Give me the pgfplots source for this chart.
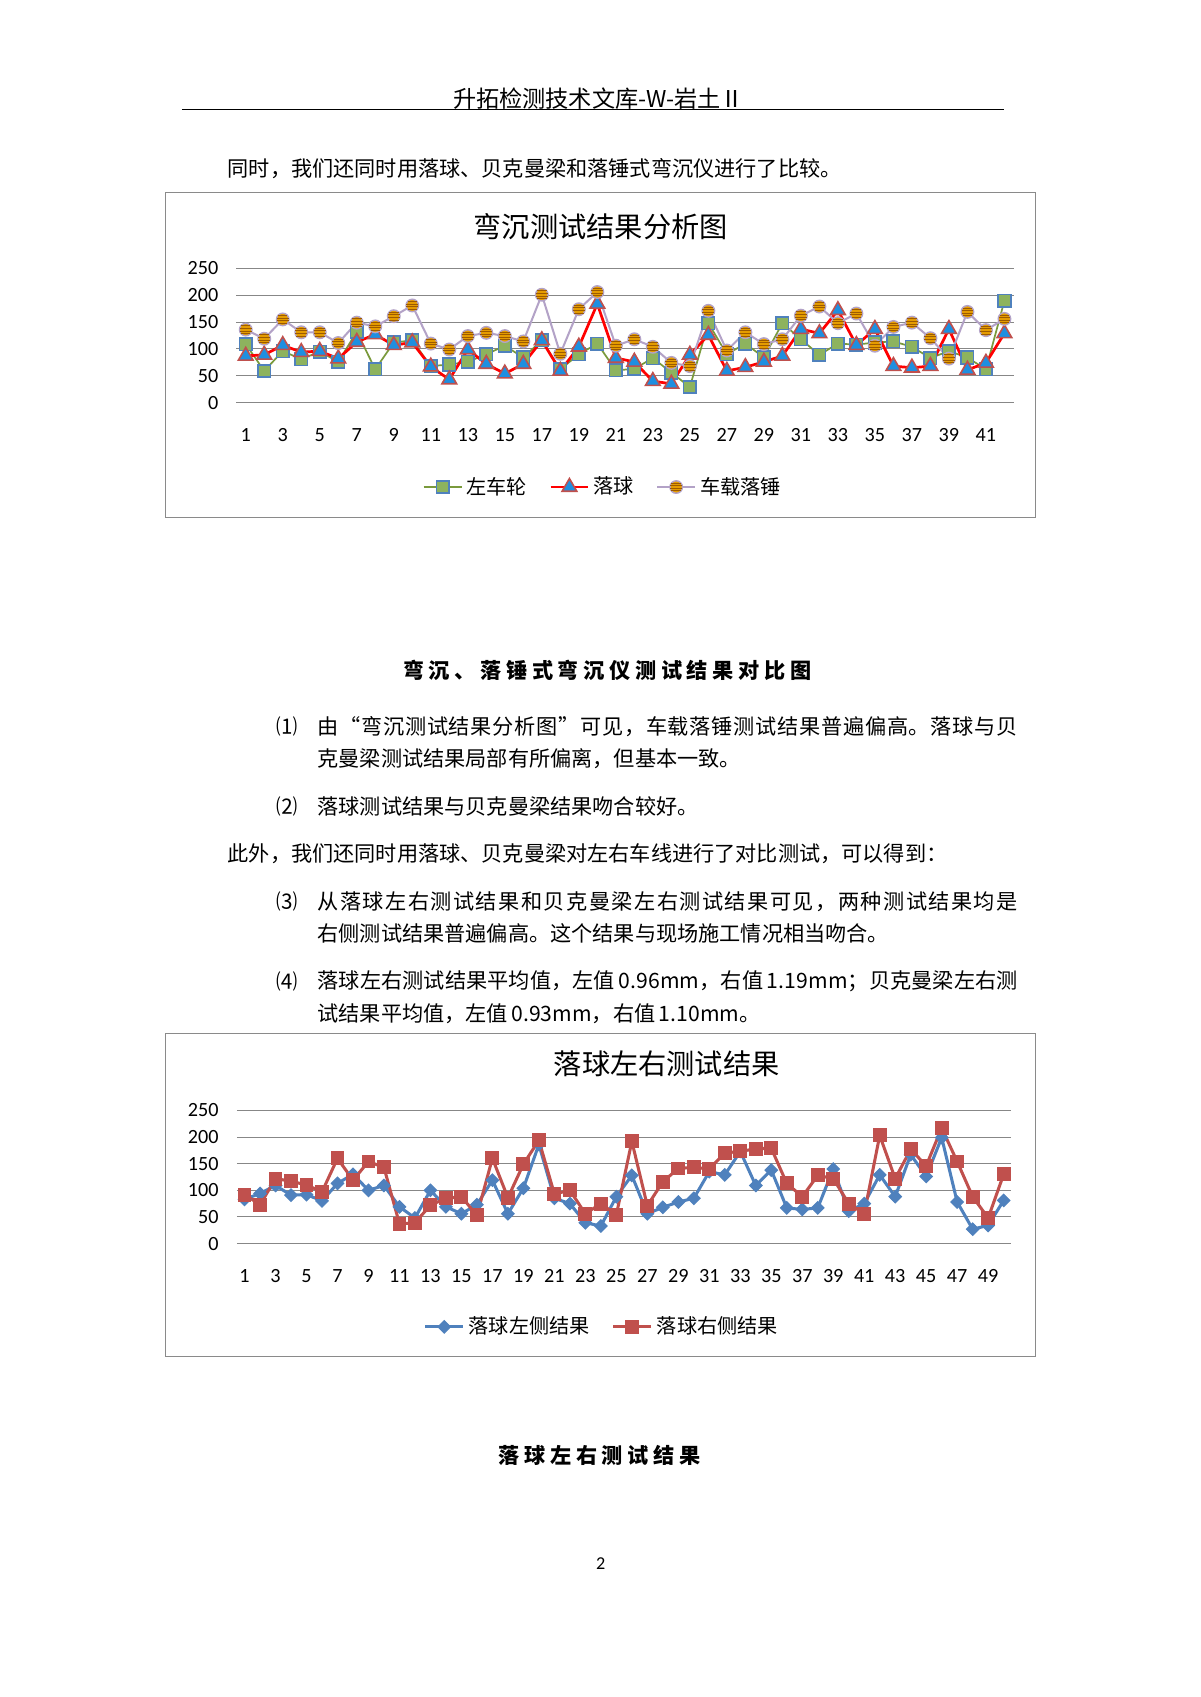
\documentclass[border=0pt]{standalone}
\usepackage{fontspec}
\setmainfont{Carlito}
\newfontfamily\cjk{Noto Sans CJK SC}
\usepackage{pgfplots}
\pgfplotsset{compat=1.18}
\makeatletter
\newcommand\jline[1]{\makebox[347.3pt][s]{\@tfor\jl@c:=#1\do{\jl@c\hskip0pt plus 3pt\relax}\unskip}}
\makeatother
\definecolor{gridgray}{HTML}{878787}
\definecolor{boxgray}{HTML}{8A8A8A}
\definecolor{olive}{HTML}{7A9A3C}
\definecolor{sqfill}{HTML}{8DB35E}
\definecolor{sqedge}{HTML}{4F81BD}
\definecolor{triedge}{HTML}{C0504D}
\definecolor{trifill}{HTML}{1E8FE0}
\definecolor{lav}{HTML}{B3A2C7}
\definecolor{ballorange}{HTML}{E59C00}
\definecolor{ballstripe}{HTML}{9C5A00}
\definecolor{xblue}{HTML}{4F81BD}
\definecolor{xred}{HTML}{C0504D}
\pgfdeclareplotmark{sball}{%
  \pgfpathcircle{\pgfpointorigin}{\pgfplotmarksize}%
  \pgfusepathqfillstroke
  \pgfscope
  \pgfsetlinewidth{0.45pt}%
  \pgfsetstrokecolor{ballstripe}%
  \pgfpathmoveto{\pgfqpoint{-0.95\pgfplotmarksize}{0.22\pgfplotmarksize}}%
  \pgfpathlineto{\pgfqpoint{0.95\pgfplotmarksize}{0.22\pgfplotmarksize}}%
  \pgfpathmoveto{\pgfqpoint{-0.95\pgfplotmarksize}{-0.22\pgfplotmarksize}}%
  \pgfpathlineto{\pgfqpoint{0.95\pgfplotmarksize}{-0.22\pgfplotmarksize}}%
  \pgfpathmoveto{\pgfqpoint{-0.76\pgfplotmarksize}{0.62\pgfplotmarksize}}%
  \pgfpathlineto{\pgfqpoint{0.76\pgfplotmarksize}{0.62\pgfplotmarksize}}%
  \pgfpathmoveto{\pgfqpoint{-0.76\pgfplotmarksize}{-0.62\pgfplotmarksize}}%
  \pgfpathlineto{\pgfqpoint{0.76\pgfplotmarksize}{-0.62\pgfplotmarksize}}%
  \pgfusepathqstroke
  \endpgfscope
}
\pgfplotsset{
  excelaxis/.style={
    anchor=south west, scale only axis,
    ymin=0, ymax=250, ytick={0,50,...,250},
    axis line style={draw=none}, tick style={draw=none},
    ymajorgrids, grid style={color=gridgray, line width=0.5pt},
    /pgf/number format/assume math mode=true,
    ticklabel style={font=\fontsize{10}{12}\selectfont},
    xticklabel style={yshift=-9.5pt},
    yticklabel style={xshift=-5.5pt},
    clip=false,
    legend columns=-1,
    legend image code/.code={\draw[mark repeat=2,mark phase=2] plot coordinates {(0cm,0cm) (0.33cm,0cm) (0.66cm,0cm)};},
    legend style={anchor=center, draw=none, fill=none,
      font=\cjk\fontsize{10}{12}\selectfont,
      /tikz/every even column/.append style={column sep=9pt}},
  }
}
\begin{document}
\begin{tikzpicture}
\path[use as bounding box, fill=white] (0,0) rectangle (595.3pt,-841.7pt);
\begin{scope}[x=0.5368pt,y=-0.5368pt]
% header
\node[font=\cjk\fontsize{11.5}{13}\selectfont, inner sep=0] at (553,91) {升拓检测技术文库-W-岩土Ⅱ};
\draw[line width=0.6pt] (168,101) -- (928,101);
\begin{scope}[every node/.style={font=\cjk\fontsize{10.5}{12}\selectfont, inner sep=0, anchor=west}]
\node at (210,156) {同时，我们还同时用落球、贝克曼梁和落锤式弯沉仪进行了比较。};
\node at (255,671) {⑴};
\node at (293,671) {\jline{由“弯沉测试结果分析图”可见，车载落锤测试结果普遍偏高。落球与贝}};
\node at (293,701) {克曼梁测试结果局部有所偏离，但基本一致。};
\node at (255,745) {⑵};
\node at (293,745) {落球测试结果与贝克曼梁结果吻合较好。};
\node at (210,789) {此外，我们还同时用落球、贝克曼梁对左右车线进行了对比测试，可以得到：};
\node at (255,833) {⑶};
\node at (293,833) {\jline{从落球左右测试结果和贝克曼梁左右测试结果可见，两种测试结果均是}};
\node at (293,862) {右侧测试结果普遍偏高。这个结果与现场施工情况相当吻合。};
\node at (255,907) {⑷};
\node at (293,907) {\jline{落球左右测试结果平均值，左值\,0.96mm，右值\,1.19mm；贝克曼梁左右测}};
\node at (293,937) {试结果平均值，左值\,0.93mm，右值\,1.10mm。};
\end{scope}
\node[font=\cjk\bfseries\fontsize{10.5}{12}\selectfont, inner sep=0] at (561,619)
  {弯\kern2.3pt 沉\kern2.3pt 、\kern2.3pt 落\kern2.3pt 锤\kern2.3pt 式\kern2.3pt 弯\kern2.3pt 沉\kern2.3pt 仪\kern2.3pt 测\kern2.3pt 试\kern2.3pt 结\kern2.3pt 果\kern2.3pt 对\kern2.3pt 比\kern2.3pt 图};
\node[font=\cjk\bfseries\fontsize{10.5}{12}\selectfont, inner sep=0] at (554,1345)
  {落\kern2.3pt 球\kern2.3pt 左\kern2.3pt 右\kern2.3pt 测\kern2.3pt 试\kern2.3pt 结\kern2.3pt 果};
\node[font=\fontsize{9}{11}\selectfont, inner sep=0] at (555,1445) {2};
% chart boxes
\draw[color=boxgray, line width=0.6pt] (153,178) rectangle (957,478);
\draw[color=boxgray, line width=0.6pt] (153,955) rectangle (957,1253);
\node[font=\cjk\fontsize{14}{16}\selectfont, inner sep=0] at (555,209) {弯沉测试结果分析图};
\node[font=\cjk\fontsize{14}{16}\selectfont, inner sep=0] at (616,983) {落球左右测试结果};
\end{scope}

% chart 1
\begin{axis}[excelaxis,
  at={(117.29pt,-199.69pt)}, width=385.5pt, height=66.56pt,
  xmin=0.5, xmax=42.5, xtick={1,3,...,41},
  legend style={at={(0.4727,-0.629)}}]
\addplot[color=olive, line width=0.85pt, mark=square*, mark size=3.1pt,
  mark options={draw=sqedge, fill=sqfill, line width=0.8pt}]
 coordinates {(1,109)(2,59)(3,96)(4,81)(5,95)(6,76)(7,132)(8,62)(9,112)(10,116)
 (11,68)(12,71)(13,76)(14,90)(15,106)(16,84)(17,116)(18,62)(19,90)(20,110)
 (21,60)(22,63)(23,83)(24,56)(25,29)(26,148)(27,90)(28,110)(29,84)(30,148)
 (31,118)(32,89)(33,110)(34,108)(35,112)(36,114)(37,104)(38,83)(39,96)(40,84)
 (41,62)(42,190)};
\addlegendentry{左车轮}
\addplot[color=red, line width=1.35pt, mark=triangle*, mark size=4.2pt,
  mark options={draw=triedge, fill=trifill, line width=0.8pt}]
 coordinates {(1,87)(2,89)(3,107)(4,94)(5,96)(6,82)(7,113)(8,127)(9,107)(10,112)
 (11,67)(12,43)(13,99)(14,72)(15,54)(16,72)(17,116)(18,59)(19,104)(20,184)
 (21,83)(22,76)(23,40)(24,35)(25,89)(26,126)(27,59)(28,66)(29,76)(30,87)
 (31,137)(32,129)(33,172)(34,107)(35,137)(36,68)(37,65)(38,68)(39,137)(40,61)
 (41,74)(42,129)};
\addlegendentry{落球}
\addplot[color=lav, line width=1.0pt, mark=sball, mark size=3.1pt,
  mark options={draw=lav, fill=ballorange, line width=0.7pt}]
 coordinates {(1,136)(2,119)(3,155)(4,131)(5,131)(6,111)(7,149)(8,142)(9,161)(10,181)
 (11,110)(12,99)(13,124)(14,130)(15,124)(16,114)(17,201)(18,91)(19,174)(20,206)
 (21,106)(22,118)(23,104)(24,74)(25,68)(26,171)(27,97)(28,131)(29,109)(30,118)
 (31,162)(32,179)(33,148)(34,166)(35,106)(36,141)(37,149)(38,120)(39,82)(40,169)
 (41,135)(42,156)};
\addlegendentry{车载落锤}
\end{axis}

% chart 2
\begin{axis}[excelaxis,
  at={(117.45pt,-616.78pt)}, width=384.2pt, height=66.03pt,
  xmin=0.5, xmax=50.5, xtick={1,3,...,49},
  legend style={at={(0.4726,-0.626)}}]
\addplot[color=xblue, line width=1.5pt, mark=square*, mark size=2.2pt,
  mark options={rotate=45, draw=xblue, fill=xblue, line width=0.5pt}]
 coordinates {(1,83)(2,94)(3,109)(4,91)(5,92)(6,80)(7,113)(8,130)(9,100)(10,109)
 (11,69)(12,48)(13,100)(14,69)(15,56)(16,73)(17,119)(18,56)(19,104)(20,186)
 (21,85)(22,75)(23,39)(24,33)(25,88)(26,128)(27,56)(28,68)(29,78)(30,85)
 (31,135)(32,129)(33,173)(34,109)(35,138)(36,67)(37,64)(38,67)(39,140)(40,61)
 (41,75)(42,129)(43,88)(44,167)(45,126)(46,199)(47,78)(48,27)(49,34)(50,81)};
\addlegendentry{落球左侧结果}
\addplot[color=xred, line width=1.5pt, mark=square*, mark size=3.2pt,
  mark options={draw=xred, fill=xred, line width=0.5pt}]
 coordinates {(1,92)(2,73)(3,122)(4,117)(5,110)(6,97)(7,160)(8,119)(9,154)(10,143)
 (11,37)(12,39)(13,72)(14,85)(15,88)(16,53)(17,160)(18,86)(19,149)(20,194)
 (21,93)(22,100)(23,56)(24,75)(25,54)(26,192)(27,71)(28,116)(29,141)(30,143)
 (31,140)(32,170)(33,173)(34,178)(35,179)(36,113)(37,88)(38,128)(39,122)(40,75)
 (41,56)(42,203)(43,122)(44,177)(45,146)(46,217)(47,154)(48,88)(49,48)(50,130)};
\addlegendentry{落球右侧结果}
\end{axis}
\end{tikzpicture}
\end{document}
